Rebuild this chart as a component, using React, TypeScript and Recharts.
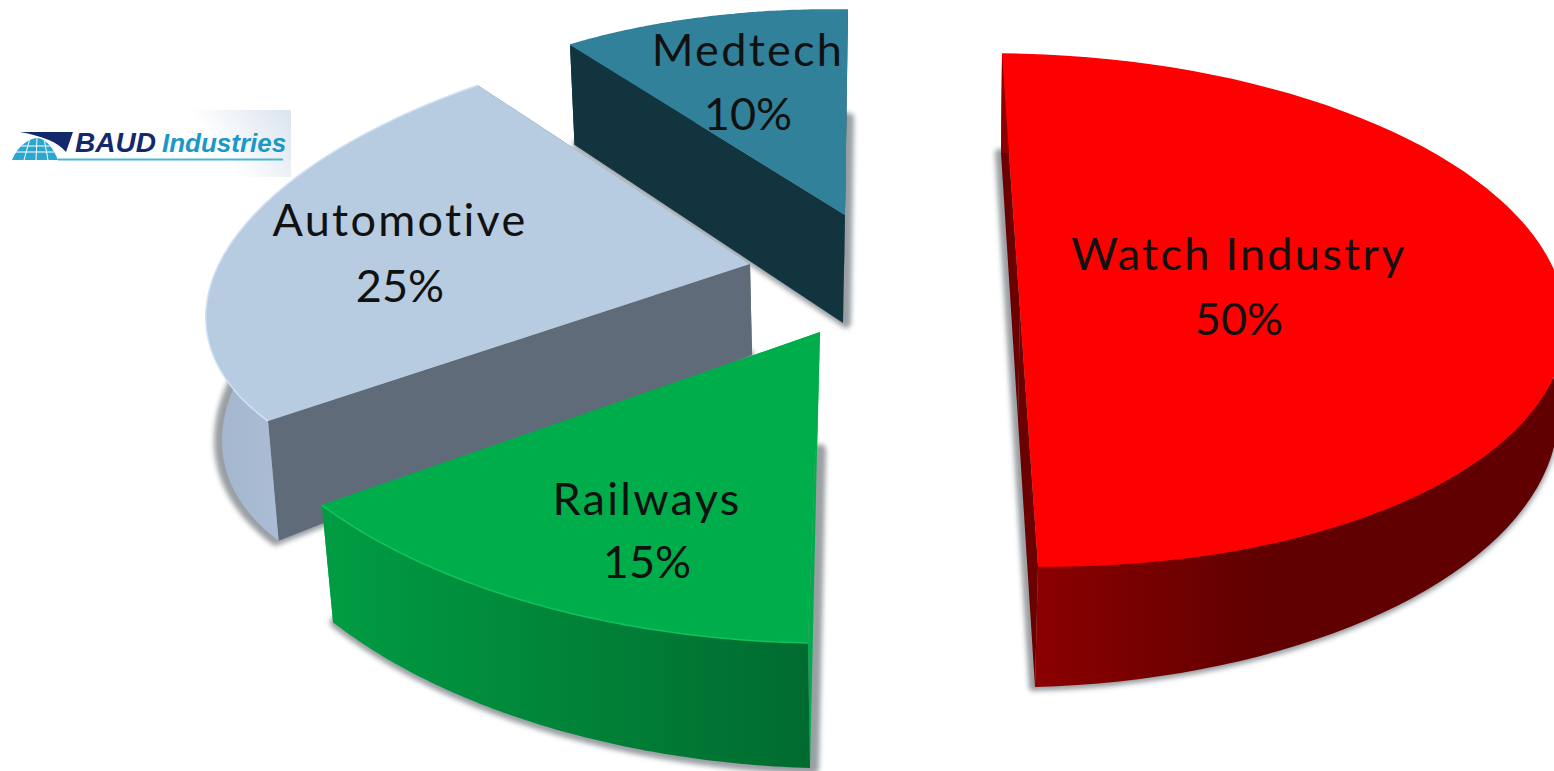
import { Pie, PieChart } from "recharts";

const sectors = ["Medtech", "Automotive", "Railways", "Watch Industry"];
const shares = [10, 25, 15, 50];

const data = sectors.map((name, i) => ({ name, value: shares[i] }));

// each slice sits on its own tilted plane: centre + u*cos + v*sin, one frame for the top and one for the base
// k pulls the middle of the rim in a little, the picture's rims are flatter than a true ellipse
type Frame = { c: number[]; u: number[]; v: number[]; k?: number };
type Look = {
  top: Frame;
  base: Frame;
  topFill: string;
  cutFill: string;
  wallFrom: string;
  wallTo: string;
  wallX: number[];
  edge: string;
  shadowDx: number;
  shadowWidth: number;
  labelX: number;
  labelY: number[];
};

const looks: Look[] = [
  {
    top: { c: [845, 215], u: [472, 7], v: [3, -205] },
    base: { c: [843, 323], u: [461, 21], v: [3, -205] },
    topFill: "#31819b",
    cutFill: "#11343f",
    wallFrom: "#11343f",
    wallTo: "#11343f",
    wallX: [570, 850],
    edge: "#31819b",
    shadowDx: 3,
    shadowWidth: 10,
    labelX: 748,
    labelY: [66, 130],
  },
  {
    top: { c: [750, 264], u: [550, -22], v: [63, -237], k: 0.02 },
    base: { c: [752, 355], u: [543, -53], v: [58, -243], k: 0.035 },
    topFill: "#b7cbe1",
    cutFill: "#5f6b78",
    wallFrom: "#a3b6cd",
    wallTo: "#aabdd4",
    wallX: [210, 280],
    edge: "#cfe2f7",
    shadowDx: -3,
    shadowWidth: 10,
    labelX: 400,
    labelY: [236, 302],
  },
  {
    top: { c: [820, 332], u: [607, 12], v: [12, -311] },
    base: { c: [817, 450], u: [593, 18], v: [7, -318] },
    topFill: "#00ad4b",
    cutFill: "#00ad4b",
    wallFrom: "#009c42",
    wallTo: "#006b2f",
    wallX: [330, 810],
    edge: "#12c25f",
    shadowDx: 3,
    shadowWidth: 12,
    labelX: 647,
    labelY: [515, 578],
  },
  {
    top: { c: [1020, 310], u: [545, 5], v: [-18, -256] },
    base: { c: [1018, 420], u: [540, -15], v: [-17, -267] },
    topFill: "#ff0000",
    cutFill: "#6a0000",
    wallFrom: "#8c0000",
    wallTo: "#600000",
    wallX: [1035, 1260],
    edge: "#ff0000",
    shadowDx: -2,
    shadowWidth: 8,
    labelX: 1239,
    labelY: [270, 335],
  },
];

const at = (f: Frame, deg: number, t: number) => {
  const a = (deg * Math.PI) / 180;
  const r = 1 - (f.k ?? 0) * Math.sin(Math.PI * t);
  const x = f.c[0] + r * (f.u[0] * Math.cos(a) + f.v[0] * Math.sin(a));
  const y = f.c[1] + r * (f.u[1] * Math.cos(a) + f.v[1] * Math.sin(a));
  return `${x.toFixed(1)} ${y.toFixed(1)}`;
};

const arc = (f: Frame, from: number, to: number) => {
  const pts: string[] = [];
  for (let i = 0; i <= 80; i++) pts.push(at(f, from + ((to - from) * i) / 80, i / 80));
  return pts;
};

const poly = (pts: string[]) => "M" + pts.join("L") + "Z";
const centre = (f: Frame) => `${f.c[0]} ${f.c[1]}`;

function Slice3D(props: any) {
  const { startAngle, endAngle, index } = props;
  const k = looks[index];
  const topArc = arc(k.top, startAngle, endAngle);
  const baseArc = arc(k.base, startAngle, endAngle);
  const gradId = `wall-${index}`;
  return (
    <g>
      <defs>
        <linearGradient id={gradId} gradientUnits="userSpaceOnUse" x1={k.wallX[0]} x2={k.wallX[1]} y1={0} y2={0}>
          <stop offset="0%" stopColor={k.wallFrom} />
          <stop offset="100%" stopColor={k.wallTo} />
        </linearGradient>
      </defs>
      <path
        d={poly([centre(k.base), ...baseArc])}
        transform={`translate(${k.shadowDx} 0)`}
        fill="#9a9fa3"
        stroke="#9a9fa3"
        strokeWidth={k.shadowWidth}
        strokeLinejoin="round"
        filter="url(#soft)"
      />
      <path d={poly([centre(k.top), topArc[0], baseArc[0], centre(k.base)])} fill={k.cutFill} />
      <path d={poly([centre(k.top), topArc[80], baseArc[80], centre(k.base)])} fill={k.cutFill} />
      <path d={poly([...topArc, ...[...baseArc].reverse()])} fill={`url(#${gradId})`} />
      <path d={poly([centre(k.top), ...topArc])} fill={k.topFill} />
      <path d={"M" + topArc.join("L")} fill="none" stroke={k.edge} strokeWidth={1.5} />
    </g>
  );
}

function SliceLabel(props: any) {
  const k = looks[props.index];
  const style = { fontFamily: "Lato", fontSize: 45, fill: "#111" };
  return (
    <g>
      <text x={k.labelX} y={k.labelY[0]} textAnchor="middle" style={{ ...style, letterSpacing: 2.3 }}>
        {sectors[props.index]}
      </text>
      <text x={k.labelX} y={k.labelY[1]} textAnchor="middle" style={style}>
        {shares[props.index]}%
      </text>
    </g>
  );
}

function Logo() {
  return (
    <svg width={300} height={80} viewBox="0 100 300 80" style={{ position: "absolute", left: 0, top: 100 }}>
      <defs>
        <linearGradient id="logoBg" gradientUnits="userSpaceOnUse" x1={225} y1={160} x2={290} y2={112}>
          <stop offset="0%" stopColor="#ffffff" />
          <stop offset="100%" stopColor="#dbe4ef" />
        </linearGradient>
        <clipPath id="globe">
          <path d="M12 160 C18 145 30 138 38 138 C48 140 54 150 58 160 Z" />
        </clipPath>
      </defs>
      <rect x={10} y={110} width={281} height={67} fill="url(#logoBg)" />
      <path d="M20 132 L73 132 L66 152 C58 142 42 136 20 132 Z" fill="#14296b" />
      <path d="M12 160 C18 145 30 138 38 138 C48 140 54 150 58 160 Z" fill="#2aa6cf" />
      <g clipPath="url(#globe)" stroke="#ffffff" strokeWidth={1} fill="none">
        <path d="M12 152 L58 152 M14 146 L52 146 M24 160 L30 138 M36 160 L37 138 M48 160 L44 138" />
      </g>
      <line x1={58} x2={283} y1={159.5} y2={159.5} stroke="#49b8cf" strokeWidth={2} />
      <text x={75} y={152} style={{ fontFamily: "Liberation Sans", fontWeight: 700, fontStyle: "italic", fontSize: 28, fill: "#14296b" }}>
        BAUD
      </text>
      <text x={162} y={152} style={{ fontFamily: "Liberation Sans", fontWeight: 700, fontStyle: "italic", fontSize: 26, fill: "#1a98c6" }}>
        Industries
      </text>
    </svg>
  );
}

export default function App() {
  return (
    <div style={{ position: "absolute", left: 0, top: 0, width: 1554, height: 771, overflow: "hidden", background: "#fff" }}>
      <PieChart width={1554} height={771} margin={{ top: 0, right: 0, bottom: 0, left: 0 }}>
        <defs>
          <filter id="soft" x="-10%" y="-10%" width="120%" height="120%">
            <feGaussianBlur stdDeviation="2.5" />
          </filter>
        </defs>
        <Pie
          data={data}
          dataKey="value"
          nameKey="name"
          cx={777}
          cy={385}
          outerRadius={300}
          startAngle={90}
          endAngle={450}
          paddingAngle={0}
          stroke="none"
          shape={Slice3D}
          label={SliceLabel}
          labelLine={false}
          isAnimationActive={false}
        />
      </PieChart>
      <Logo />
    </div>
  );
}
